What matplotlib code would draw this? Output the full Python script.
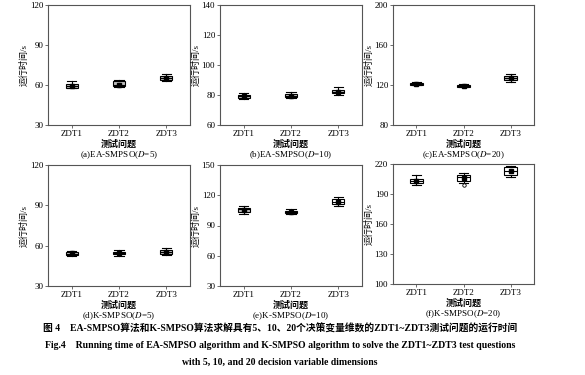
import matplotlib
matplotlib.use('Agg')
import matplotlib.pyplot as plt

plt.rcParams['font.family'] = ['Liberation Serif', 'Noto Sans CJK SC']
plt.rcParams['mathtext.fontset'] = 'stix'

problems = ['ZDT1', 'ZDT2', 'ZDT3']
titles = ['(a)EA-SMPSO($D$=5)', '(b)EA-SMPSO($D$=10)', '(c)EA-SMPSO($D$=20)',
          '(d)K-SMPSO($D$=5)', '(e)K-SMPSO($D$=10)', '(f)K-SMPSO($D$=20)']
ylims = [(30, 120), (60, 140), (80, 200), (30, 120), (30, 150), (100, 220)]
yticks = [[30, 60, 90, 120], [60, 80, 100, 120, 140], [80, 120, 160, 200],
          [30, 60, 90, 120], [30, 60, 90, 120, 150], [100, 130, 160, 190, 220]]

# per panel, per problem: whisker low, q1, median, q3, whisker high, mean
stats = [
    [(57.5, 58.0, 59.0, 60.5, 63.0, 59.2), (58.5, 59.0, 60.0, 63.0, 64.0, 60.3), (63.0, 64.0, 65.0, 66.5, 68.0, 65.3)],
    [(77.5, 78.0, 79.0, 80.0, 81.0, 79.0), (78.0, 78.5, 79.5, 80.5, 82.0, 79.5), (80.0, 81.0, 82.0, 83.5, 85.0, 82.2)],
    [(119.5, 120.0, 121.0, 122.0, 123.0, 121.0), (117.5, 118.0, 119.0, 120.0, 121.0, 119.0), (123.0, 125.0, 127.0, 128.5, 131.0, 127.0)],
    [(52.0, 53.0, 54.0, 55.5, 56.0, 54.2), (52.0, 53.5, 54.5, 55.5, 57.0, 54.5), (53.0, 54.0, 55.0, 56.5, 58.0, 55.2)],
    [(101.0, 103.0, 106.0, 107.0, 109.0, 105.5), (101.0, 102.0, 103.0, 104.5, 106.0, 103.2), (109.0, 111.0, 113.5, 116.0, 118.0, 113.5)],
    [(199.0, 201.0, 203.0, 205.5, 209.0, 203.0), (201.5, 203.5, 207.0, 209.0, 211.5, 206.5), (207.0, 209.0, 213.0, 217.0, 218.0, 213.0)],
]
fliers = {(5, 1): [199.0]}
white_boxes = {(4, 2), (5, 0), (5, 1), (5, 2)}

W, H = 585, 375
fig = plt.figure(figsize=(W / 100, H / 100), dpi=100)

# axes boxes in pixels: left, top, right, bottom
boxes = [(48, 5, 190, 125), (220, 5, 362, 125), (393, 5, 534, 125),
         (48, 165, 190, 286), (220, 165, 362, 286), (393, 164, 534, 284)]

edge = '#555555'
for i, (l, t, r, b) in enumerate(boxes):
    ax = fig.add_axes([l / W, 1 - b / H, (r - l) / W, (b - t) / H])
    bxps = []
    for j, s in enumerate(stats[i]):
        bxps.append(dict(whislo=s[0], q1=s[1], med=s[2], q3=s[3], whishi=s[4],
                         mean=s[5], fliers=fliers.get((i, j), [])))
    art = ax.bxp(bxps, positions=[1, 2, 3], widths=0.26, patch_artist=True,
                 showmeans=True, showfliers=True,
                 boxprops=dict(linewidth=0.8, edgecolor='black'),
                 medianprops=dict(color='black', linewidth=0.8),
                 whiskerprops=dict(color='black', linewidth=0.8),
                 capprops=dict(color='black', linewidth=0.8),
                 capwidths=0.2,
                 meanprops=dict(marker='s', markersize=2.5, markerfacecolor='black',
                                markeredgecolor='black'),
                 flierprops=dict(marker='o', markersize=2.5, markerfacecolor='white',
                                 markeredgecolor='black', markeredgewidth=0.6))
    for j, p in enumerate(art['boxes']):
        p.set_facecolor('white' if (i, j) in white_boxes else '#bdbdbd')
    ax.set_xlim(0.5, 3.5)
    ax.set_ylim(*ylims[i])
    ax.set_yticks(yticks[i])
    ax.set_xticks([1, 2, 3])
    ax.set_xticklabels(problems)
    ax.tick_params(labelsize=6.5, length=2, width=0.6, color=edge, pad=1.5)
    for sp in ax.spines.values():
        sp.set_color(edge)
        sp.set_linewidth(0.8)
    ax.set_ylabel('运行时间/s', fontsize=6.5, labelpad=1)
    ax.set_xlabel('测试问题', fontsize=6.5, fontweight='bold', labelpad=1)
    cx = (l + r) / 2 / W
    fig.text(cx, 1 - (b + 30) / H, titles[i], fontsize=6.5, ha='center', va='center')

cap_x = 280 / W
fig.text(cap_x, 1 - 329 / H,
         '图 4    EA-SMPSO算法和K-SMPSO算法求解具有5、10、20个决策变量维数的ZDT1~ZDT3测试问题的运行时间',
         fontsize=7, fontweight='bold', ha='center', va='center')
fig.text(cap_x, 1 - 346 / H,
         'Fig.4    Running time of EA-SMPSO algorithm and K-SMPSO algorithm to solve the ZDT1~ZDT3 test questions',
         fontsize=7, fontweight='bold', ha='center', va='center')
fig.text(cap_x, 1 - 362 / H, 'with 5, 10, and 20 decision variable dimensions',
         fontsize=7, fontweight='bold', ha='center', va='center')

fig.savefig('out.png', dpi=100, facecolor='white')
